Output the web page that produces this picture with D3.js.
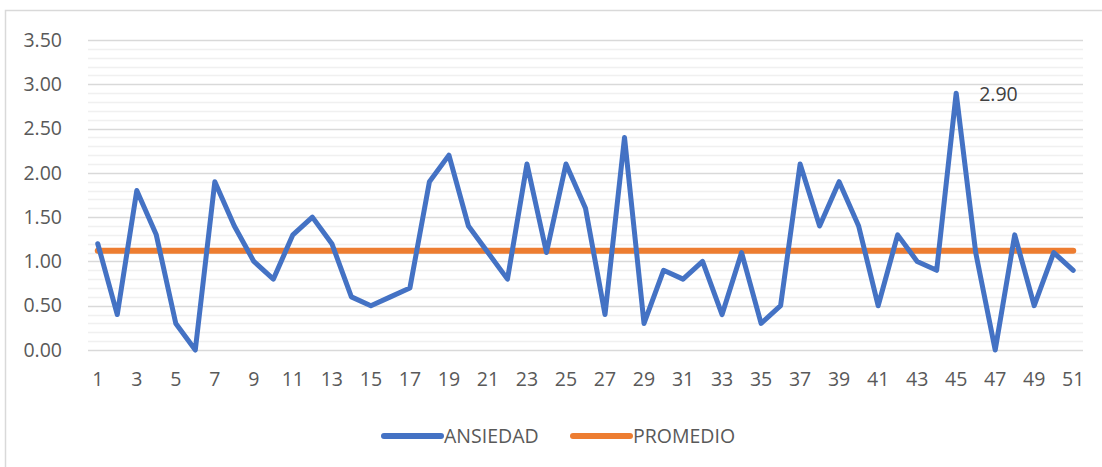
<!DOCTYPE html>
<html>
<head>
<meta charset="utf-8">
<title>Ansiedad</title>
<script src="https://cdn.jsdelivr.net/npm/d3@7"></script>
<style>
	body { margin: 0; background: #fff; }
	text { font-family: "Open Sans", "Noto Sans", sans-serif; fill: #595959; }
</style>
</head>
<body>
<svg id="chart" width="1102" height="467"></svg>
<script>

	var categorias = d3.range(1, 52);
	var ansiedad = [1.2, 0.4, 1.8, 1.3, 0.3, 0.0, 1.9, 1.4, 1.0, 0.8,
		1.3, 1.5, 1.2, 0.6, 0.5, 0.6, 0.7, 1.9, 2.2, 1.4,
		1.1, 0.8, 2.1, 1.1, 2.1, 1.6, 0.4, 2.4, 0.3, 0.9,
		0.8, 1.0, 0.4, 1.1, 0.3, 0.5, 2.1, 1.4, 1.9, 1.4,
		0.5, 1.3, 1.0, 0.9, 2.9, 1.1, 0.0, 1.3, 0.5, 1.1,
		0.9];
	var promedio = 1.12;
	var yTicks = [0, 0.5, 1, 1.5, 2, 2.5, 3, 3.5];
	var series = ["ANSIEDAD", "PROMEDIO"];
	var colores = ["#4472C4", "#ED7D31"];

	var svg = d3.select("#chart"),
	    margin = {top: 40, right: 19, bottom: 117, left: 88},
	    width = +svg.attr("width") - margin.left - margin.right,
	    height = +svg.attr("height") - margin.top - margin.bottom;

	// chart border
	svg.append("rect")
		.attr("x", 5.5).attr("y", 10.5)
		.attr("width", 1110).attr("height", 470)
		.attr("fill", "none")
		.attr("stroke", "#d9d9d9")
		.attr("stroke-width", 1.5);

	var g = svg.append("g").attr("transform", "translate(" + margin.left + "," + margin.top + ")");

	var x = d3.scaleBand()
		.domain(categorias)
		.range([0, width]);

	var y = d3.scaleLinear()
		.domain([0, 3.5])
		.range([height, 0]);

	var cx = function(d) { return x(d) + x.bandwidth() / 2; };

	// minor gridlines
	g.append("g")
		.selectAll("line")
		.data(d3.range(1, 35).filter(function(i) { return i % 5 != 0; }).map(function(i) { return i / 10; }))
		.enter().append("line")
		.attr("x1", 0).attr("x2", width)
		.attr("y1", function(d) { return Math.round(y(d)) + 0.5; })
		.attr("y2", function(d) { return Math.round(y(d)) + 0.5; })
		.attr("stroke", "#f0f0f0")
		.attr("stroke-width", 1.5);

	// major gridlines
	g.append("g")
		.selectAll("line")
		.data(yTicks)
		.enter().append("line")
		.attr("x1", 0).attr("x2", width)
		.attr("y1", function(d) { return Math.round(y(d)) + 0.5; })
		.attr("y2", function(d) { return Math.round(y(d)) + 0.5; })
		.attr("stroke", "#d9d9d9")
		.attr("stroke-width", 1.5);

	// y axis
	var yAxis = g.append("g")
		.attr("transform", "translate(-23,0)")
		.call(d3.axisLeft(y).tickValues(yTicks).tickFormat(d3.format(".2f")).tickSize(0));
	yAxis.select(".domain").remove();
	yAxis.selectAll("text").attr("font-size", 19.5).attr("fill", "#595959").attr("font-family", null);

	// x axis
	var xAxis = g.append("g")
		.attr("transform", "translate(0," + height + ")")
		.call(d3.axisBottom(x).tickValues(categorias.filter(function(d) { return d % 2 == 1; })).tickSize(0).tickPadding(22));
	xAxis.select(".domain").remove();
	xAxis.selectAll("text").attr("font-size", 19.5).attr("fill", "#595959").attr("font-family", null);

	// promedio
	g.append("line")
		.attr("x1", cx(categorias[0]))
		.attr("x2", cx(categorias[categorias.length - 1]))
		.attr("y1", y(promedio))
		.attr("y2", y(promedio))
		.attr("stroke", colores[1])
		.attr("stroke-width", 6)
		.attr("stroke-linecap", "round");

	// ansiedad
	var line = d3.line()
		.x(function(d, i) { return cx(categorias[i]); })
		.y(function(d) { return y(d); });

	g.append("path")
		.datum(ansiedad)
		.attr("fill", "none")
		.attr("stroke", colores[0])
		.attr("stroke-width", 5)
		.attr("stroke-linejoin", "round")
		.attr("stroke-linecap", "round")
		.attr("d", line);

	// label at the max
	var iMax = d3.maxIndex(ansiedad);
	g.append("text")
		.attr("x", cx(categorias[iMax]) + 23)
		.attr("y", y(ansiedad[iMax]) + 8)
		.attr("font-size", 19.5)
		.style("fill", "#404040")
		.text(d3.format(".2f")(ansiedad[iMax]));

	// legend
	var legend = svg.append("g").attr("transform", "translate(384,436)");
	var lx = [0, 189];
	series.forEach(function(s, i) {
		legend.append("line")
			.attr("x1", lx[i]).attr("x2", lx[i] + 57)
			.attr("y1", 0).attr("y2", 0)
			.attr("stroke", colores[i])
			.attr("stroke-width", 6)
			.attr("stroke-linecap", "round");
		legend.append("text")
			.attr("x", lx[i] + 60)
			.attr("y", 7)
			.attr("font-size", 19.5)
			.text(s);
	});

</script>
</body>
</html>
